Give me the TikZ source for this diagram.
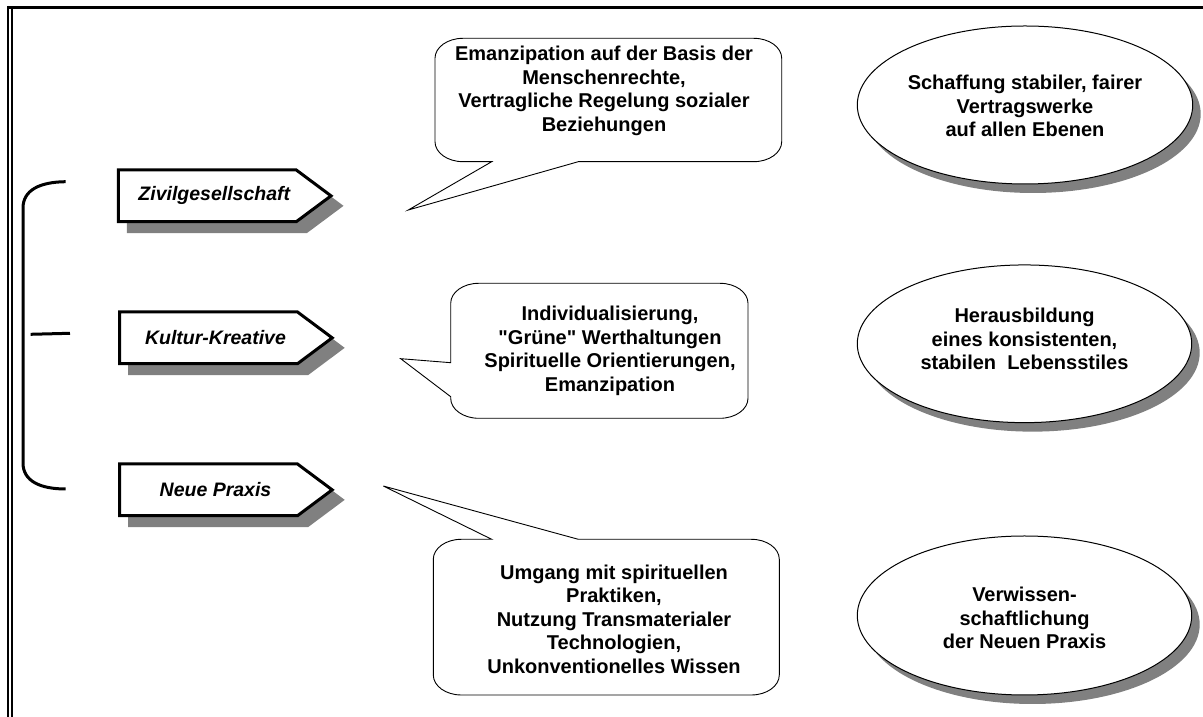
\documentclass[tikz,border=0pt]{standalone}
\usepackage{fontspec}
\setmainfont{Liberation Sans}[Ligatures=TeXOff]
\usetikzlibrary{shapes.geometric,shadows}

% pointed label with a hard grey shadow; #1 name, #2 left x, #3 top y, #4 text
\newcommand\pointerlabel[4]{%
  \begin{scope}[shift={(#2,#3)}]
    \filldraw[tagshadow] (10,-10) -- (188,-10) -- (222.7,-35.85) -- (188,-61.7) -- (10,-61.7) -- cycle;
    \draw[tagshape] (0,0) -- (178,0) -- (212.7,-25.85) -- (178,-51.7) -- (0,-51.7) -- cycle;
    \node[tagtxt] (#1) at (96,-25.85) {#4};
  \end{scope}}

\begin{document}
\begin{tikzpicture}[x=1pt,y=1pt,
  txt/.style={font=\fontsize{20}{23.5}\selectfont\bfseries, align=center, inner sep=0pt},
  tagtxt/.style={font=\fontsize{19.5}{23}\selectfont\bfseries\itshape, inner sep=0pt},
  goal/.style={ellipse, draw, line width=1pt, fill=white, inner sep=0pt,
    drop shadow={shadow xshift=8pt, shadow yshift=-9pt, fill=black!50, opacity=1}},
  bubble/.style={draw, line width=0.9pt, fill=white, line join=miter},
  tagshape/.style={draw, line width=3pt, fill=white, line join=miter},
  tagshadow/.style={draw=black!50, fill=black!50, line width=3pt, line join=miter},
  brace/.style={line width=3pt}
]
\useasboundingbox (0,0) rectangle (1203,717);

% page frame: heavy top rule and double rule on the left
\draw[line width=3pt] (7,709.5) -- (1203,709.5);
\draw[line width=2pt] (8.3,711) -- (8.3,0);
\draw[line width=2pt] (11.7,708) -- (11.7,0);

% bracket grouping the three fields
\coordinate (bt) at (65.7,535.3);
\coordinate (bb) at (65.7,228);
\draw[brace] (bt) .. controls (40,535) and (23,527) .. (23,509)
  -- (23,254) .. controls (23,236) and (40,228) .. (bb);
\coordinate (tl) at (30.7,382.7);
\coordinate (tr) at (70,383.7);
\draw[brace] (tl) -- (tr);

% fields
\pointerlabel{zivil}{118.3}{547}{Zivilgesellschaft}
\pointerlabel{kultur}{119.5}{405}{Kultur-Kreative}
\pointerlabel{praxis}{119.5}{253}{Neue Praxis}

% speech bubbles
\draw[bubble] (491.7,555.3) -- (408.3,507) -- (578.3,555.3) -- (753.7,555.3)
  arc[start angle=270, end angle=360, x radius=28, y radius=20] -- (781.7,658.7)
  arc[start angle=0, end angle=90, x radius=28, y radius=20] -- (463,678.7)
  arc[start angle=90, end angle=180, x radius=28, y radius=20] -- (435,575.3)
  arc[start angle=180, end angle=270, x radius=28, y radius=20] -- cycle;
\node[txt] (b1) at (604,626) {Emanzipation auf der Basis der\\Menschenrechte,\\Vertragliche Regelung sozialer\\Beziehungen};

\draw[bubble] (450.7,354.3) -- (400.7,358.3) -- (450.7,320.3) -- (450.7,318.7)
  arc[start angle=180, end angle=270, x radius=28, y radius=20] -- (720,298.7)
  arc[start angle=270, end angle=360, x radius=28, y radius=20] -- (748,413.7)
  arc[start angle=0, end angle=90, x radius=28, y radius=20] -- (478.7,433.7)
  arc[start angle=90, end angle=180, x radius=28, y radius=20] -- cycle;
\node[txt] (b2) at (610,366) {Individualisierung,\\"Grüne" Werthaltungen\\Spirituelle Orientierungen,\\Emanzipation};

\draw[bubble] (578.3,177.7) -- (383.3,231) -- (491.7,177.7) -- (461.3,177.7)
  arc[start angle=90, end angle=180, x radius=28, y radius=20] -- (433.3,42)
  arc[start angle=180, end angle=270, x radius=28, y radius=20] -- (751.3,22)
  arc[start angle=270, end angle=360, x radius=28, y radius=20] -- (779.3,157.7)
  arc[start angle=0, end angle=90, x radius=28, y radius=20] -- cycle;
\node[txt] (b3) at (614,98) {Umgang mit spirituellen\\Praktiken,\\Nutzung Transmaterialer\\Technologien,\\Unkonventionelles Wissen};

% goals
\node[goal, minimum width=335.4pt, minimum height=158pt] (g1) at (1025,612) {};
\node[txt] (g1t) at (1025,611) {Schaffung stabiler, fairer\\Vertragswerke\\auf allen Ebenen};
\node[goal, minimum width=334.4pt, minimum height=157.7pt] (g2) at (1024.5,373.2) {};
\node[txt] (g2t) at (1024.5,378) {Herausbildung\\eines konsistenten,\\stabilen\ \ Lebensstiles};
\node[goal, minimum width=334.4pt, minimum height=159pt] (g3) at (1024.5,101.5) {};
\node[txt] (g3t) at (1024.5,98.7) {Verwissen-\\schaftlichung\\der Neuen Praxis};
\end{tikzpicture}
\end{document}
